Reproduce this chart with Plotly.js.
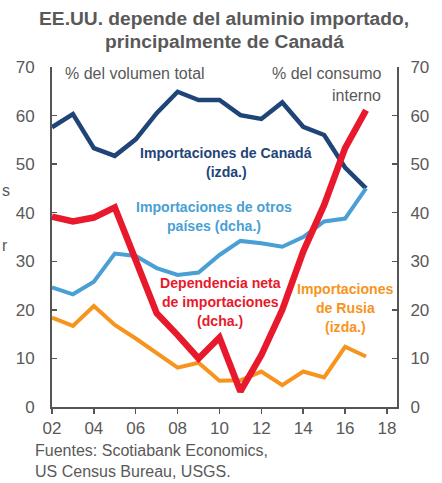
<!DOCTYPE html>
<html>
<head>
<meta charset="utf-8">
<script src="https://cdn.plot.ly/plotly-3.0.1.min.js"></script>
<style>html,body{margin:0;padding:0;background:#fff;}#chart{width:442px;height:483px;}</style>
</head>
<body>
<div id="chart"></div>
<script>
const years = [2002,2003,2004,2005,2006,2007,2008,2009,2010,2011,2012,2013,2014,2015,2016,2017];
const canada = [57.6,60.3,53.3,51.7,55.1,60.5,64.9,63.2,63.2,60.1,59.3,62.7,57.7,56.0,49.3,45.0];
const otros = [24.6,23.2,25.8,31.6,31.1,28.6,27.2,27.7,31.3,34.2,33.7,33.0,35.0,38.2,38.8,45.0];
const dependencia = [39.2,38.2,39.0,41.1,30.2,19.3,14.8,10.0,14.3,3.2,10.7,20.0,32.0,41.6,53.3,61.1];
const rusia = [18.4,16.7,20.8,16.9,14.1,11.0,8.1,9.1,5.4,5.5,7.3,4.5,7.3,6.1,12.4,10.4];
const xTickVals = [2002,2004,2006,2008,2010,2012,2014,2016,2018];
const xTickText = ['02','04','06','08','10','12','14','16','18'];
const yTickVals = [0,10,20,30,40,50,60,70];

const FONT = 'Liberation Sans, Arial, sans-serif';
const GRAY = '#595959';
const AX = '#555555';
const C_CAN = '#1f4478', C_OTR = '#4a9fd4', C_DEP = '#e8192c', C_RUS = '#f7941d';

const L = 52, T = 67, W = 345, H = 340;
const px = x => (x - L) / W;
const py = y => (T + H - y) / H;

const traces = [
  {x: years, y: otros, yaxis: 'y2', mode: 'lines', line: {color: C_OTR, width: 4}, hoverinfo: 'skip'},
  {x: years, y: rusia, mode: 'lines', line: {color: C_RUS, width: 4}, hoverinfo: 'skip'},
  {x: years, y: canada, mode: 'lines', line: {color: C_CAN, width: 4.5}, hoverinfo: 'skip'},
  {x: years, y: dependencia, yaxis: 'y2', mode: 'lines', line: {color: C_DEP, width: 6.5}, hoverinfo: 'skip'}
];

function ann(text, x, y, color, size, opts) {
  return Object.assign({text: text, xref: 'paper', yref: 'paper', x: px(x), y: py(y),
    showarrow: false, font: {family: FONT, size: size, color: color}, xanchor: 'center', yanchor: 'middle'}, opts || {});
}
function lab(text, x, y, color) {
  return ann('<b>' + text + '</b>', x, y, color, 14.1);
}

const annotations = [
  ann('<b>principalmente de Canadá</b>', 224, 41, GRAY, 19.2),
  ann('% del volumen total', 63, 73, GRAY, 16, {xanchor: 'left'}),
  ann('% del consumo', 383, 73, GRAY, 16, {xanchor: 'right'}),
  ann('interno', 383, 95, GRAY, 16, {xanchor: 'right'}),
  lab('Importaciones de Canadá', 226, 153, C_CAN),
  lab('(izda.)', 226, 172, C_CAN),
  lab('Importaciones de otros', 214, 207, C_OTR),
  lab('países (dcha.)', 214, 226, C_OTR),
  lab('Dependencia neta', 220, 283, C_DEP),
  lab('de importaciones', 220, 302, C_DEP),
  lab('(dcha.)', 220, 321, C_DEP),
  lab('Importaciones', 345, 289, C_RUS),
  lab('de Rusia', 345, 308, C_RUS),
  lab('(izda.)', 345, 327, C_RUS),
  ann('Fuentes: Scotiabank Economics,', 33, 450, GRAY, 16, {xanchor: 'left'}),
  ann('US Census Bureau, USGS.', 33, 471, GRAY, 16, {xanchor: 'left'}),
  ann('s', 0, 190, GRAY, 16, {xanchor: 'left'}),
  ann('r', 0, 245, GRAY, 16, {xanchor: 'left'})
];

const layout = {
  width: 442, height: 483,
  margin: {l: L, r: 442 - L - W, t: T, b: 483 - T - H, pad: 0},
  paper_bgcolor: '#ffffff', plot_bgcolor: '#ffffff',
  showlegend: false,
  font: {family: FONT, size: 16, color: GRAY},
  title: {text: '<b>EE.UU. depende del aluminio importado,</b>', x: px(224), xref: 'paper', xanchor: 'center',
    y: 1 - 18/483, yref: 'container', yanchor: 'middle',
    font: {family: FONT, size: 19.2, color: GRAY}},
  xaxis: {range: [2002, 2018.48], tickvals: xTickVals, ticktext: xTickText, showgrid: false, zeroline: false,
    showline: true, linecolor: AX, linewidth: 2, ticks: 'outside', ticklen: 5, tickwidth: 1.5, tickcolor: AX,
    tickfont: {family: FONT, size: 17, color: GRAY}, fixedrange: true},
  yaxis: {range: [0, 70], tickvals: yTickVals, showgrid: false, zeroline: false,
    showline: true, linecolor: AX, linewidth: 2, ticks: 'inside', ticklen: 5, tickwidth: 1.5, tickcolor: AX,
    tickfont: {family: FONT, size: 17, color: GRAY}, ticklabelstandoff: 12, fixedrange: true},
  yaxis2: {range: [0, 70], tickvals: yTickVals, overlaying: 'y', side: 'right', showgrid: false, zeroline: false,
    showline: true, linecolor: AX, linewidth: 2, ticks: 'inside', ticklen: 5, tickwidth: 1.5, tickcolor: AX,
    tickfont: {family: FONT, size: 17, color: GRAY}, ticklabelstandoff: 8, fixedrange: true},
  annotations: annotations
};

Plotly.newPlot('chart', traces, layout, {displayModeBar: false, staticPlot: true});
</script>
</body>
</html>
